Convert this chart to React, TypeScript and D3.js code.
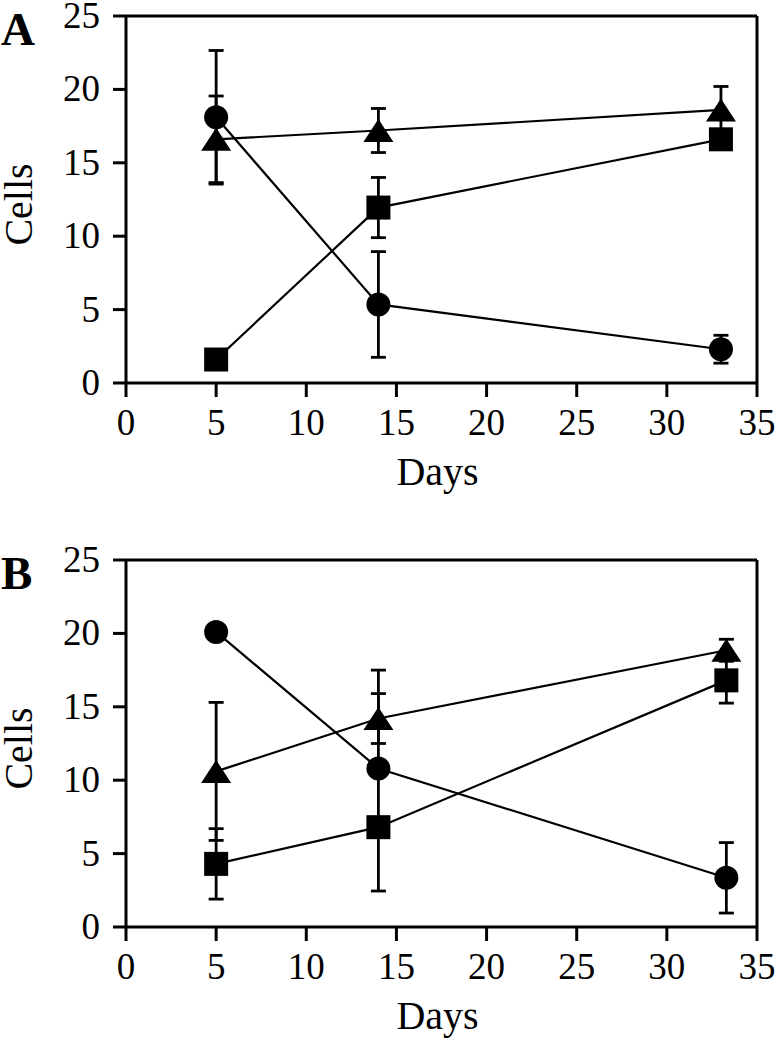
import React from 'react';
import * as d3 from 'd3';

// ---- tick labels ----
const xTicks = [0, 5, 10, 15, 20, 25, 30, 35];
const yTicks = [0, 5, 10, 15, 20, 25];

// ---- Panel A ----
const daysA = [5, 14, 33];
const circleA = [18.1, 5.35, 2.3];
const circleAHi = [4.55, 3.6, 0.95];
const circleALo = [4.55, 3.6, 0.95];
const triangleA = [16.6, 17.2, 18.6];
const triangleAHi = [2.95, 1.5, 1.6];
const triangleALo = [2.95, 1.5, 1.6];
const squareA = [1.6, 11.95, 16.6];
const squareAHi = [0.4, 2.05, 0.5];
const squareALo = [0.4, 2.05, 0.5];

// ---- Panel B ----
const daysB = [5, 14, 33.3];
const circleB = [20.1, 10.8, 3.35];
const circleBHi = [0.5, 6.7, 2.4];
const circleBLo = [0.5, 0.5, 2.4];
const triangleB = [10.6, 14.2, 18.85];
const triangleBHi = [4.7, 1.7, 0.75];
const triangleBLo = [4.7, 1.7, 0.75];
const squareB = [4.3, 6.8, 16.8];
const squareBHi = [2.4, 4.35, 1.55];
const squareBLo = [2.4, 4.35, 1.55];

type Series = { shape: string; values: number[]; hi: number[]; lo: number[] };

const panelA = {
  label: 'A',
  days: daysA,
  series: [
    { shape: 'circle', values: circleA, hi: circleAHi, lo: circleALo },
    { shape: 'triangle', values: triangleA, hi: triangleAHi, lo: triangleALo },
    { shape: 'square', values: squareA, hi: squareAHi, lo: squareALo },
  ] as Series[],
};
const panelB = {
  label: 'B',
  days: daysB,
  series: [
    { shape: 'circle', values: circleB, hi: circleBHi, lo: circleBLo },
    { shape: 'triangle', values: triangleB, hi: triangleBHi, lo: triangleBLo },
    { shape: 'square', values: squareB, hi: squareBHi, lo: squareBLo },
  ] as Series[],
};

const FONT = "'Liberation Serif', 'DejaVu Serif', Times, serif";
const textStyle = { fontFamily: FONT };

function Marker({ shape, cx, cy }: { shape: string; cx: number; cy: number }) {
  if (shape === 'circle') return <circle cx={cx} cy={cy} r={12} fill="#000" />;
  if (shape === 'square')
    return <rect x={cx - 12} y={cy - 12} width={24} height={24} fill="#000" />;
  const w = 30, h = 23;
  return (
    <path
      d={`M${cx},${cy - h / 2}L${cx + w / 2},${cy + h / 2}L${cx - w / 2},${cy + h / 2}Z`}
      fill="#000"
    />
  );
}

function Panel({ top, panel }: { top: number; panel: typeof panelA }) {
  const left = 126, right = 757;
  const bottom = top + 367;
  const x = d3.scaleLinear().domain([0, 35]).range([left, right]);
  const y = d3.scaleLinear().domain([0, 25]).range([bottom, top]);
  const line = d3
    .line<number>()
    .x((_, i) => x(panel.days[i]))
    .y((d) => y(d));
  const tick = 14;
  return (
    <g>
      {/* frame */}
      <line x1={x(0)} x2={x(35)} y1={y(25)} y2={y(25)} stroke="#000" strokeWidth={3} />
      <line x1={x(35)} x2={x(35)} y1={y(25)} y2={y(0)} stroke="#000" strokeWidth={3} />
      <line x1={x(0)} x2={x(35)} y1={y(0)} y2={y(0)} stroke="#000" strokeWidth={3} />
      <line x1={x(0)} x2={x(0)} y1={y(25)} y2={y(0)} stroke="#000" strokeWidth={3} />
      {yTicks.map((t) => (
        <g key={'y' + t}>
          <line x1={x(0) - 13} x2={x(0)} y1={y(t)} y2={y(t)} stroke="#000" strokeWidth={3} />
          <text x={100} y={y(t) + 12} textAnchor="end" style={textStyle} fontSize={37}>
            {t}
          </text>
        </g>
      ))}
      {xTicks.map((t) => (
        <g key={'x' + t}>
          <line x1={x(t)} x2={x(t)} y1={y(0)} y2={y(0) + tick} stroke="#000" strokeWidth={3} />
          <text x={x(t)} y={bottom + 52} textAnchor="middle" style={textStyle} fontSize={37}>
            {t}
          </text>
        </g>
      ))}
      <text
        x={(left + right) / 2 - 4}
        y={bottom + 102}
        textAnchor="middle"
        style={textStyle}
        fontSize={40}
      >
        Days
      </text>
      <text
        transform={`translate(32,${(top + bottom) / 2 + 5}) rotate(-90)`}
        textAnchor="middle"
        style={textStyle}
        fontSize={40}
      >
        Cells
      </text>
      <text x={1} y={top + 29} style={textStyle} fontSize={47} fontWeight="bold">
        {panel.label}
      </text>
      {/* connecting lines */}
      {panel.series.map((s, k) => (
        <path key={'l' + k} d={line(s.values) || ''} fill="none" stroke="#000" strokeWidth={2.2} />
      ))}
      {/* error bars */}
      {panel.series.map((s, k) =>
        s.values.map((v, i) => {
          const cx = x(panel.days[i]);
          const yh = y(v + s.hi[i]);
          const yl = y(v - s.lo[i]);
          return (
            <g key={'e' + k + '-' + i} stroke="#000" strokeWidth={2.8}>
              <line x1={cx} x2={cx} y1={yh} y2={yl} />
              <line x1={cx - 7.5} x2={cx + 7.5} y1={yh} y2={yh} />
              <line x1={cx - 7.5} x2={cx + 7.5} y1={yl} y2={yl} />
            </g>
          );
        })
      )}
      {/* markers */}
      {panel.series.map((s, k) =>
        s.values.map((v, i) => (
          <Marker key={'m' + k + '-' + i} shape={s.shape} cx={x(panel.days[i])} cy={y(v)} />
        ))
      )}
    </g>
  );
}

export default function App() {
  return (
    <svg
      width={775}
      height={1039}
      style={{ position: 'absolute', left: 0, top: 0, background: '#fff' }}
    >
      <rect width={775} height={1039} fill="#fff" />
      <Panel top={16} panel={panelA} />
      <Panel top={560} panel={panelB} />
    </svg>
  );
}
